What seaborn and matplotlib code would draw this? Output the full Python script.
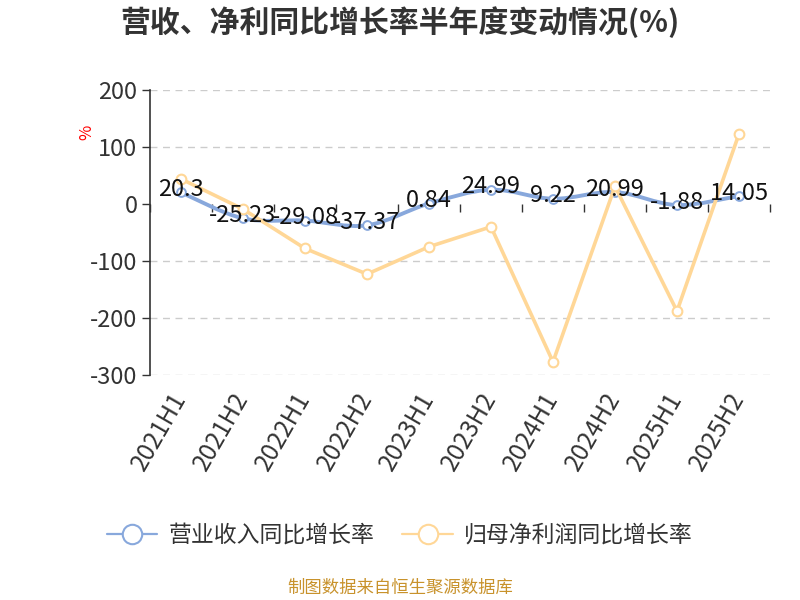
import numpy as np
import pandas as pd
import matplotlib
matplotlib.use('Agg')
import matplotlib.pyplot as plt
import seaborn as sns
from matplotlib.path import Path
from matplotlib.patches import PathPatch
from matplotlib.lines import Line2D
from matplotlib.transforms import ScaledTranslation

# ====== data
periods = ['2021H1', '2021H2', '2022H1', '2022H2', '2023H1',
           '2023H2', '2024H1', '2024H2', '2025H1', '2025H2']
revenue_yoy = [20.3, -25.23, -29.08, -37.37, 0.84, 24.99, 9.22, 20.99, -1.88, 14.05]
profit_yoy = [44, -9, -78, -123, -75, -40, -277, 31, -188, 123]
yticks = [-300, -200, -100, 0, 100, 200]

series_names = ['营业收入同比增长率', '归母净利润同比增长率']
title = '营收、净利同比增长率半年度变动情况(%)'
source = '制图数据来自恒生聚源数据库'

BLUE = '#88a8dc'
YELLOW = '#ffd797'
TXT = '#333333'

sns.set_theme(style='white')
plt.rcParams['font.family'] = ['Noto Sans CJK SC', 'DejaVu Sans']
plt.rcParams['axes.unicode_minus'] = False

df = pd.DataFrame({'pos': np.arange(len(periods)),
                   'revenue': revenue_yoy,
                   'profit': profit_yoy})

fig = plt.figure(figsize=(8, 6), dpi=100)
ax = fig.add_axes([0.1875, 0.375, 0.775, 0.475])

# grid
for v in yticks:
    if v != 0:
        ax.axhline(v, color='#cccccc', lw=1, ls=(0, (5, 4)), zorder=0)

# smooth revenue curve (catmull-rom style bezier, like echarts smooth)
xs = df['pos'].values.astype(float)
ys = df['revenue'].values.astype(float)
n = len(xs)
verts = [(xs[0], ys[0])]
codes = [Path.MOVETO]
k = 1 / 6
for i in range(n - 1):
    i0, i3 = max(i - 1, 0), min(i + 2, n - 1)
    c1 = (xs[i] + (xs[i + 1] - xs[i0]) * k, ys[i] + (ys[i + 1] - ys[i0]) * k)
    c2 = (xs[i + 1] - (xs[i3] - xs[i]) * k, ys[i + 1] - (ys[i3] - ys[i]) * k)
    verts += [c1, c2, (xs[i + 1], ys[i + 1])]
    codes += [Path.CURVE4] * 3
ax.add_patch(PathPatch(Path(verts, codes), fill=False, edgecolor=BLUE, lw=2.8, zorder=3))
sns.scatterplot(data=df, x='pos', y='revenue', s=40, color='white', edgecolor=BLUE,
                linewidth=1.4, zorder=4, ax=ax, legend=False)

# profit line
sns.lineplot(data=df, x='pos', y='profit', color=YELLOW, lw=2.6, marker='o', markersize=7,
             markerfacecolor='white', markeredgecolor=YELLOW, markeredgewidth=1.5,
             zorder=5, ax=ax, legend=False)

# data labels for revenue
for x, y in zip(df['pos'], df['revenue']):
    ax.annotate(f'{y:g}', (x, y), xytext=(0, 2), textcoords='offset points',
                ha='center', va='center', fontsize=17, color='#111111', zorder=6)

ax.set_xlim(-0.5, len(periods) - 0.5)
ax.set_ylim(-300, 200)
ax.tick_params(axis='x', length=0, pad=9)
ax.tick_params(axis='y', length=6, width=1, color=TXT, pad=3, left=True)
ax.set_yticks(yticks)
ax.set_yticklabels([str(v) for v in yticks], fontsize=17, color=TXT)
ax.set_xticks(df['pos'])
ax.set_xticklabels(periods, rotation=60, ha='right', rotation_mode='anchor',
                   fontsize=17.5, color=TXT)
shift = ScaledTranslation(-8 / 72, 0, fig.dpi_scale_trans)
for lab in ax.get_xticklabels():
    lab.set_transform(lab.get_transform() + shift)
ax.set_xlabel('')
ax.set_ylabel('')
for s in ['top', 'right', 'bottom']:
    ax.spines[s].set_visible(False)
ax.spines['left'].set_color(TXT)
ax.spines['left'].set_linewidth(1.2)

# x axis line at zero with boundary ticks
zero_frac = (0 - (-300)) / 500
sec = ax.secondary_xaxis(zero_frac)
sec.set_xticks(np.arange(len(periods) + 1) - 0.5)
sec.set_xticklabels([])
sec.tick_params(axis='x', direction='out', length=6, width=1, color=TXT)
sec.spines['bottom'].set_color(TXT)
sec.spines['bottom'].set_linewidth(1.3)
sec.xaxis.set_ticks_position('bottom')
sec.spines['top'].set_visible(False)

fig.text(0.108, 0.78, '%', color='red', fontsize=12, rotation=90, ha='center', va='center')

fig.text(0.5, 0.963, title, ha='center', va='center', fontsize=21.5, fontweight='bold', color=TXT)

handles = [Line2D([], [], color=BLUE, lw=1.6, marker='o', markersize=14,
                  markerfacecolor='white', markeredgecolor=BLUE, markeredgewidth=1.5),
           Line2D([], [], color=YELLOW, lw=1.6, marker='o', markersize=14,
                  markerfacecolor='white', markeredgecolor=YELLOW, markeredgewidth=1.5)]
fig.legend(handles, series_names, loc='center', bbox_to_anchor=(0.5, 0.108), ncol=2,
           frameon=False, fontsize=16.5, handlelength=2.2, columnspacing=1.2,
           handletextpad=0.5, labelcolor=TXT)

fig.text(0.5, 0.02, source, ha='center', va='center', fontsize=12.5, color='#c8922b')

fig.savefig('out.png', dpi=100)
